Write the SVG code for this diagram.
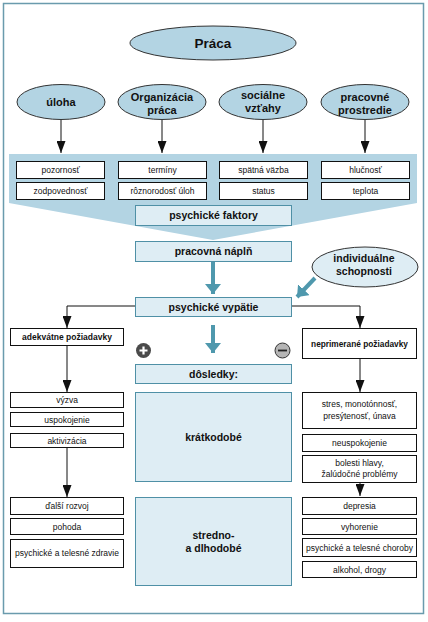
<svg xmlns="http://www.w3.org/2000/svg" width="428" height="622" viewBox="0 0 428 622">
<defs>
<style>
.frame{fill:#fff;stroke:#6a9bad;stroke-width:1.5}
.ell{fill:#b3d4e3;stroke:#333;stroke-width:1}
.ell2{fill:#deedf4;stroke:#333;stroke-width:1}
.wb{fill:#fff;stroke:#111;stroke-width:1}
.lb{fill:#deedf4;stroke:#4f90a6;stroke-width:1}
.t{font-family:"Liberation Sans",Arial,sans-serif;fill:#111;text-anchor:middle}
.b{font-weight:bold}
.s{font-size:8.5px}
.m{font-size:10.5px}
.ln{fill:none;stroke:#111;stroke-width:1}
.tl{fill:none;stroke:#4f98ad;stroke-width:4}
</style>
<marker id="ah" markerUnits="userSpaceOnUse" markerWidth="12" markerHeight="9" refX="12" refY="4.5" orient="auto">
<path d="M0,0 L12,4.5 L0,9 Z" fill="#111"/>
</marker>
<marker id="th" markerUnits="userSpaceOnUse" markerWidth="10" markerHeight="16" refX="10" refY="8" orient="auto">
<path d="M0,0 L10,8 L0,16 Z" fill="#4f98ad"/>
</marker>
</defs>
<rect class="frame" x="3.5" y="3.5" width="420" height="610"/>
<polygon points="9,154 417,154 417,203 213,240 9,203" fill="#b3d4e3"/>

<g id="connectors">
<line class="ln" x1="61" y1="120" x2="61" y2="153" marker-end="url(#ah)"/>
<line class="ln" x1="162" y1="120" x2="162" y2="153" marker-end="url(#ah)"/>
<line class="ln" x1="263" y1="120" x2="263" y2="153" marker-end="url(#ah)"/>
<line class="ln" x1="365" y1="120" x2="365" y2="153" marker-end="url(#ah)"/>
<line class="tl" x1="213" y1="261" x2="213" y2="294" marker-end="url(#th)"/>
<line class="tl" x1="315" y1="278" x2="297" y2="297" marker-end="url(#th)"/>
<line class="tl" x1="213" y1="325" x2="213" y2="353" marker-end="url(#th)"/>
<polyline class="ln" points="135,306 67,306 67,328" marker-end="url(#ah)"/>
<polyline class="ln" points="292,306 360,306 360,328" marker-end="url(#ah)"/>
<line class="ln" x1="67" y1="345" x2="67" y2="392" marker-end="url(#ah)"/>
<line class="ln" x1="67" y1="447" x2="67" y2="497" marker-end="url(#ah)"/>
<line class="ln" x1="360" y1="358" x2="360" y2="392" marker-end="url(#ah)"/>
<line class="ln" x1="360" y1="482" x2="360" y2="496" marker-end="url(#ah)"/>
</g>

<g id="praca"><ellipse class="ell" cx="213" cy="43" rx="83" ry="17"/><text class="t b" x="213" y="48" font-size="13.5">Práca</text></g>
<g id="uloha"><ellipse class="ell" cx="61" cy="102" rx="44" ry="17.5"/><text class="t b" x="61" y="106" font-size="11">úloha</text></g>
<g id="organizacia"><ellipse class="ell" cx="162" cy="102" rx="44" ry="17.5"/><text class="t b" font-size="11"><tspan x="162" y="100.5">Organizácia</tspan><tspan x="162" y="113.5">práca</tspan></text></g>
<g id="socialne"><ellipse class="ell" cx="263" cy="102" rx="44" ry="17.5"/><text class="t b" font-size="11"><tspan x="263" y="98.5">sociálne</tspan><tspan x="263" y="111.5">vzťahy</tspan></text></g>
<g id="prostredie"><ellipse class="ell" cx="365" cy="102" rx="44" ry="17.5"/><text class="t b" font-size="11"><tspan x="365" y="100.5">pracovné</tspan><tspan x="365" y="113.5">prostredie</tspan></text></g>

<g id="f1"><rect class="wb" x="16.5" y="161.5" width="88" height="17"/><text class="t s" x="60.5" y="173">pozornosť</text></g>
<g id="f2"><rect class="wb" x="16.5" y="182.5" width="88" height="17"/><text class="t s" x="60.5" y="194">zodpovednosť</text></g>
<g id="f3"><rect class="wb" x="118.5" y="161.5" width="88" height="17"/><text class="t s" x="162.5" y="173">termíny</text></g>
<g id="f4"><rect class="wb" x="118.5" y="182.5" width="88" height="17"/><text class="t s" x="162.5" y="194">rôznorodosť úloh</text></g>
<g id="f5"><rect class="wb" x="219.5" y="161.5" width="88" height="17"/><text class="t s" x="263.5" y="173">spätná väzba</text></g>
<g id="f6"><rect class="wb" x="219.5" y="182.5" width="88" height="17"/><text class="t s" x="263.5" y="194">status</text></g>
<g id="f7"><rect class="wb" x="321.5" y="161.5" width="88" height="17"/><text class="t s" x="365.5" y="173">hlučnosť</text></g>
<g id="f8"><rect class="wb" x="321.5" y="182.5" width="88" height="17"/><text class="t s" x="365.5" y="194">teplota</text></g>

<g id="faktory"><rect class="lb" x="135.5" y="205.5" width="156" height="20"/><text class="t b m" x="213.5" y="219">psychické faktory</text></g>
<g id="napln"><rect class="lb" x="135.5" y="241.5" width="156" height="20"/><text class="t b m" x="213.5" y="255">pracovná náplň</text></g>
<g id="individualne"><ellipse class="ell2" cx="365" cy="267" rx="53" ry="20"/><text class="t b m"><tspan x="364" y="262">individuálne</tspan><tspan x="364" y="275">schopnosti</tspan></text></g>
<g id="vypatie"><rect class="lb" x="135.5" y="297.5" width="156" height="19"/><text class="t b m" x="213.5" y="311">psychické vypätie</text></g>

<g id="plus"><circle cx="143.5" cy="350.5" r="7.5" fill="#4a4a4a"/><path d="M139.5,350.5 H147.5 M143.5,346.5 V354.5" stroke="#fff" stroke-width="2.2"/></g>
<g id="minus"><circle cx="282.5" cy="350.5" r="7.5" fill="#b5b5b5" stroke="#333" stroke-width="1"/><path d="M278,350.5 H287" stroke="#222" stroke-width="1.8"/></g>

<g id="dosledky"><rect class="lb" x="135.5" y="364.5" width="156" height="19"/><text class="t b m" x="213.5" y="378">dôsledky:</text></g>
<g id="kratkodobe"><rect class="lb" x="135.5" y="392.5" width="156" height="89"/><text class="t b m" x="213.5" y="441">krátkodobé</text></g>
<g id="dlhodobe"><rect class="lb" x="135.5" y="497.5" width="156" height="88"/><text class="t b m"><tspan x="213.5" y="539">stredno-</tspan><tspan x="213.5" y="552">a dlhodobé</tspan></text></g>

<g id="adekvatne"><rect class="wb" x="10.5" y="328.5" width="113" height="17"/><text class="t b" font-size="8.5" x="67" y="340">adekvátne požiadavky</text></g>
<g id="vyzva"><rect class="wb" x="10.5" y="392.5" width="113" height="15"/><text class="t s" x="67" y="403">výzva</text></g>
<g id="uspokojenie"><rect class="wb" x="10.5" y="412.5" width="113" height="14"/><text class="t s" x="67" y="422.5">uspokojenie</text></g>
<g id="aktivizacia"><rect class="wb" x="10.5" y="433.5" width="113" height="14"/><text class="t s" x="67" y="443.5">aktivizácia</text></g>
<g id="rozvoj"><rect class="wb" x="10.5" y="497.5" width="113" height="17"/><text class="t s" x="67" y="509">ďalší rozvoj</text></g>
<g id="pohoda"><rect class="wb" x="10.5" y="518.5" width="113" height="16"/><text class="t s" x="67" y="529.5">pohoda</text></g>
<g id="zdravie"><rect class="wb" x="10.5" y="539.5" width="113" height="28"/><text class="t s" x="67" y="556">psychické a telesné zdravie</text></g>

<g id="neprimerane"><rect class="wb" x="302.5" y="328.5" width="114" height="30"/><text class="t b" font-size="8.3" x="359.5" y="346.5">neprimerané požiadavky</text></g>
<g id="stres"><rect class="wb" x="302.5" y="392.5" width="114" height="36"/><text class="t s"><tspan x="359.5" y="407">stres, monotónnosť,</tspan><tspan x="359.5" y="419">presýtenosť, únava</tspan></text></g>
<g id="neuspokojenie"><rect class="wb" x="302.5" y="434.5" width="114" height="17"/><text class="t s" x="359.5" y="446">neuspokojenie</text></g>
<g id="bolesti"><rect class="wb" x="302.5" y="455.5" width="114" height="27"/><text class="t s"><tspan x="359.5" y="466">bolesti hlavy,</tspan><tspan x="359.5" y="477">žalúdočné problémy</tspan></text></g>
<g id="depresia"><rect class="wb" x="302.5" y="497.5" width="114" height="17"/><text class="t s" x="359.5" y="509">depresia</text></g>
<g id="vyhorenie"><rect class="wb" x="302.5" y="518.5" width="114" height="16"/><text class="t s" x="359.5" y="529.5">vyhorenie</text></g>
<g id="choroby"><rect class="wb" x="302.5" y="538.5" width="114" height="18"/><text class="t s" x="359.5" y="550.5">psychické a telesné choroby</text></g>
<g id="alkohol"><rect class="wb" x="302.5" y="561.5" width="114" height="16"/><text class="t s" x="359.5" y="572.5">alkohol, drogy</text></g>
</svg>
